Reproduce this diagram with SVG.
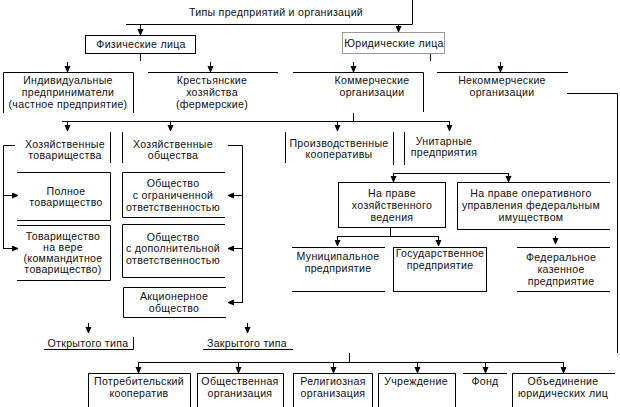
<svg xmlns="http://www.w3.org/2000/svg" width="620" height="407" viewBox="0 0 620 407">
<defs>
<marker id="ar" markerWidth="6" markerHeight="8" refX="6" refY="3" orient="auto" markerUnits="userSpaceOnUse">
<path d="M0,0 L7,3 L0,6 z" fill="#000"/>
</marker>
<style>
.ln{fill:none;stroke:#000;stroke-width:1}
.gr{fill:none;stroke:#999;stroke-width:1}
.ar{fill:none;stroke:#000;stroke-width:1;marker-end:url(#ar)}
text{font-family:"Liberation Sans",Arial,sans-serif;font-size:10.6px;letter-spacing:0.3px;fill:#111;text-anchor:middle}
</style>
</defs>
<rect width="620" height="407" fill="#fff"/>

<g id="connectors">
<polyline class="ln" points="126,24.5 412.5,24.5 412.5,0"/>
<line class="ar" x1="140.5" y1="24" x2="140.5" y2="35"/>
<line class="ar" x1="398.5" y1="24" x2="398.5" y2="32"/>
<line class="ln" x1="140.5" y1="53" x2="140.5" y2="61"/>
<line class="ln" x1="430.5" y1="53" x2="430.5" y2="61"/>
<line class="ar" x1="67.5" y1="62" x2="67.5" y2="72"/>
<line class="ar" x1="210.5" y1="62" x2="210.5" y2="72"/>
<line class="ar" x1="353.5" y1="62" x2="353.5" y2="72"/>
<line class="ar" x1="500.5" y1="62" x2="500.5" y2="72"/>
<polyline class="ln" points="567,93.5 617.5,93.5 617.5,353"/>
<line class="ln" x1="353.5" y1="113" x2="353.5" y2="121"/>
<line class="ln" x1="62" y1="121.5" x2="449.5" y2="121.5"/>
<line class="ar" x1="67.5" y1="121" x2="67.5" y2="131"/>
<line class="ar" x1="170.5" y1="121" x2="170.5" y2="131"/>
<line class="ar" x1="337.5" y1="121" x2="337.5" y2="131"/>
<line class="ar" x1="449.5" y1="121" x2="449.5" y2="131"/>
<polyline class="ln" points="15,145.5 3.5,145.5 3.5,248"/>
<line class="ar" x1="3" y1="195.5" x2="18" y2="195.5"/>
<line class="ar" x1="3" y1="248.5" x2="18" y2="248.5"/>
<polyline class="ln" points="228,145.5 242.5,145.5 242.5,302"/>
<line class="ar" x1="243" y1="195.5" x2="228" y2="195.5"/>
<line class="ar" x1="243" y1="248.5" x2="228" y2="248.5"/>
<line class="ar" x1="243" y1="302.5" x2="228" y2="302.5"/>
<line class="ar" x1="88.5" y1="323" x2="88.5" y2="333"/>
<line class="ar" x1="247.5" y1="323" x2="247.5" y2="333"/>
<line class="ln" x1="393" y1="173.5" x2="508.5" y2="173.5"/>
<line class="ar" x1="393.5" y1="173" x2="393.5" y2="182"/>
<line class="ar" x1="508.5" y1="173" x2="508.5" y2="182"/>
<line class="ln" x1="390.5" y1="227" x2="390.5" y2="236"/>
<line class="ln" x1="337" y1="236.5" x2="438.5" y2="236.5"/>
<line class="ar" x1="337.5" y1="236" x2="337.5" y2="246"/>
<line class="ar" x1="438.5" y1="236" x2="438.5" y2="246"/>
<line class="ar" x1="555.5" y1="236" x2="555.5" y2="244"/>
<line class="ln" x1="349.5" y1="353" x2="349.5" y2="362"/>
<line class="ln" x1="138" y1="362.5" x2="563.5" y2="362.5"/>
<line class="ar" x1="138.5" y1="362" x2="138.5" y2="373"/>
<line class="ar" x1="238.5" y1="362" x2="238.5" y2="373"/>
<line class="ar" x1="333.5" y1="362" x2="333.5" y2="373"/>
<line class="ar" x1="417.5" y1="362" x2="417.5" y2="373"/>
<line class="ar" x1="485.5" y1="362" x2="485.5" y2="373"/>
<line class="ar" x1="563.5" y1="362" x2="563.5" y2="373"/>
</g>

<g id="title"><text x="276" y="16">Типы предприятий и организаций</text></g>

<g id="fiz"><rect class="ln" x="85.5" y="35.5" width="110" height="18"/><text x="141" y="48">Физические лица</text></g>
<g id="yur"><rect class="gr" x="342.5" y="32.5" width="102" height="21"/><text x="394" y="47">Юридические лица</text></g>

<g id="ind"><polyline class="ln" points="3.5,113 3.5,72.5 133.5,72.5 133.5,113"/>
<text x="68" y="84">Индивидуальные</text><text x="68" y="96">предприниматели</text><text x="68" y="108">(частное предприятие)</text></g>
<g id="kfh"><line class="ln" x1="148" y1="72.5" x2="278" y2="72.5"/>
<text x="212" y="84">Крестьянские</text><text x="212" y="96">хозяйства</text><text x="212" y="108">(фермерские)</text></g>
<g id="kom"><polyline class="ln" points="293,72.5 423.5,72.5 423.5,112"/>
<text x="372" y="84">Коммерческие</text><text x="372" y="96">организации</text></g>
<g id="nekom"><line class="ln" x1="437" y1="72.5" x2="568" y2="72.5"/>
<text x="502" y="84">Некоммерческие</text><text x="502" y="96">организации</text></g>

<g id="htov"><line class="ln" x1="110.5" y1="132" x2="110.5" y2="163"/>
<text x="65" y="148">Хозяйственные</text><text x="65" y="159">товарищества</text></g>
<g id="hob"><line class="ln" x1="122.5" y1="132" x2="122.5" y2="163"/>
<text x="173" y="148">Хозяйственные</text><text x="173" y="159">общества</text></g>

<g id="poln"><polyline class="ln" points="17,172.5 110.5,172.5 110.5,220.5 17,220.5"/>
<text x="66" y="195">Полное</text><text x="66" y="206">товарищество</text></g>
<g id="vera"><polyline class="ln" points="17,225.5 110.5,225.5 110.5,280.5 17,280.5"/>
<text x="63" y="240">Товарищество</text><text x="63" y="251">на вере</text><text x="63" y="262">(коммандитное</text><text x="63" y="273">товарищество)</text></g>

<g id="ooo"><polyline class="ln" points="225,172.5 122.5,172.5 122.5,217.5 225,217.5"/>
<text x="173" y="187">Общество</text><text x="173" y="199">с ограниченной</text><text x="173" y="211">ответственностью</text></g>
<g id="odo"><polyline class="ln" points="225,224.5 122.5,224.5 122.5,277.5 225,277.5"/>
<text x="173" y="241">Общество</text><text x="173" y="252">с дополнительной</text><text x="173" y="264">ответственностью</text></g>
<g id="ao"><polyline class="ln" points="226,287.5 123.5,287.5 123.5,317.5 226,317.5"/>
<text x="174" y="300">Акционерное</text><text x="174" y="312">общество</text></g>

<g id="otkr"><polyline class="ln" points="44,349.5 133.5,349.5 133.5,337"/><text x="88" y="347">Открытого типа</text></g>
<g id="zakr"><line class="ln" x1="203" y1="349.5" x2="293" y2="349.5"/><text x="247" y="347">Закрытого типа</text></g>

<g id="pk"><line class="ln" x1="285.5" y1="132" x2="285.5" y2="163"/><line class="ln" x1="393.5" y1="132" x2="393.5" y2="165"/>
<text x="339" y="147">Производственные</text><text x="339" y="158">кооперативы</text></g>
<g id="unit"><line class="ln" x1="404.5" y1="132" x2="404.5" y2="165"/>
<text x="444" y="145">Унитарные</text><text x="444" y="156">предприятия</text></g>

<g id="hozved"><rect class="ln" x="338.5" y="182.5" width="107" height="45"/>
<text x="392" y="197">На праве</text><text x="392" y="209">хозяйственного</text><text x="392" y="221">ведения</text></g>
<g id="operupr"><polyline class="ln" points="610,182.5 457.5,182.5 457.5,229.5 610,229.5"/>
<text x="531" y="197">На праве оперативного</text><text x="531" y="209">управления федеральным</text><text x="531" y="221">имуществом</text></g>

<g id="mun"><line class="ln" x1="292" y1="247.5" x2="385" y2="247.5"/><line class="ln" x1="292" y1="291.5" x2="385" y2="291.5"/>
<text x="338" y="260">Муниципальное</text><text x="338" y="272">предприятие</text></g>
<g id="gos"><rect class="ln" x="393.5" y="247.5" width="93" height="44"/>
<text x="440" y="257">Государственное</text><text x="440" y="269">предприятие</text></g>
<g id="fkp"><line class="ln" x1="517" y1="247.5" x2="610" y2="247.5"/><line class="ln" x1="517" y1="291.5" x2="610" y2="291.5"/>
<text x="561" y="261">Федеральное</text><text x="561" y="273">казенное</text><text x="561" y="285">предприятие</text></g>

<g id="potr"><polyline class="ln" points="88.5,410 88.5,373.5 190.5,373.5 190.5,410"/>
<text x="139" y="385">Потребительский</text><text x="139" y="397">кооператив</text></g>
<g id="obsh"><polyline class="ln" points="197.5,410 197.5,373.5 283.5,373.5 283.5,410"/>
<text x="240" y="385">Общественная</text><text x="240" y="397">организация</text></g>
<g id="rel"><polyline class="ln" points="293.5,410 293.5,373.5 372.5,373.5 372.5,410"/>
<text x="333" y="385">Религиозная</text><text x="333" y="397">организация</text></g>
<g id="uchr"><polyline class="ln" points="378.5,410 378.5,373.5 455.5,373.5 455.5,410"/>
<text x="416" y="385">Учреждение</text></g>
<g id="fond"><line class="ln" x1="463" y1="373.5" x2="507" y2="373.5"/><text x="485" y="385">Фонд</text></g>
<g id="obed"><polyline class="ln" points="512.5,410 512.5,373.5 615,373.5"/>
<text x="563" y="385">Объединение</text><text x="563" y="397">юридических лиц</text></g>
</svg>
